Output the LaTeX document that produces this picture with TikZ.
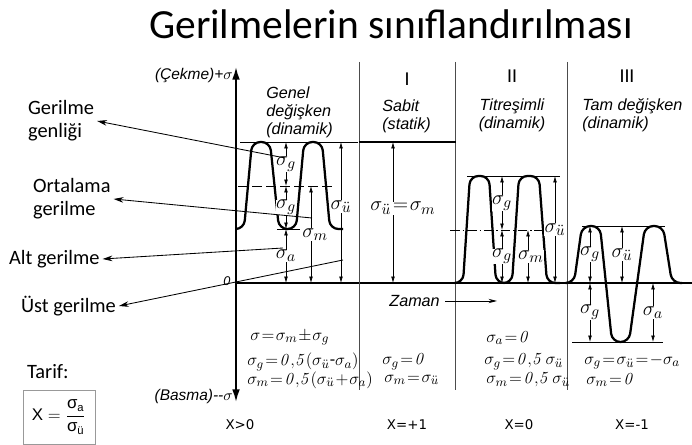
\documentclass[tikz,border=0pt]{standalone}
\usepackage{amsmath}
\usepackage[no-math]{fontspec}
\setmainfont{Carlito}
\newfontfamily\arialfont{Liberation Sans}
\newfontfamily\verdfont{DejaVu Sans}
\usetikzlibrary{arrows.meta}

\newcommand\sigU{\sigma_{\ddot u}}
\newcommand\sigA{\sigma_{a}}
\newcommand\sigG{\sigma_{g}}
\newcommand\sigM{\sigma_{m}}

\begin{document}
\begin{tikzpicture}[x=0.025cm, y=-0.025cm,
    wave/.style={line width=1.6pt, rounded corners=6pt},
    dim/.style={{Latex[length=4.5pt,width=2.6pt]}-{Latex[length=4.5pt,width=2.6pt]}, line width=0.45pt},
    lvl/.style={line width=0.45pt},
    sig/.style={fill=white, inner sep=0.3pt, font=\fontsize{15}{17}\selectfont,
        execute at begin node={\thickmuskip=1.5mu\medmuskip=1mu}},
    frm/.style={anchor=west, inner sep=0pt, font=\fontsize{12.5}{14}\selectfont,
        execute at begin node={\thickmuskip=1.5mu\medmuskip=1mu}},
    hdr/.style={font=\arialfont\itshape\fontsize{11.5}{12.8}\selectfont, inner sep=0pt},
    side/.style={font=\fontsize{14.5}{16.5}\selectfont, align=left, anchor=west, inner sep=2pt},
    ptr/.style={-{Stealth[length=7pt,width=4pt]}, line width=0.6pt},
    sep/.style={line width=0.6pt, black!70}]
    \useasboundingbox (0,0) rectangle (692,445);

    % --- 1. Baslik ---
    \node[font=\fontsize{29.5}{32}\selectfont] (baslik) at (391,24) {Gerilmelerin sınıflandırılması};

    % --- 2. Eksenler ---
    \coordinate (O) at (236,283);
    \coordinate (T) at (236,67);
    \coordinate (B) at (236,402);
    \coordinate (E) at (692,283);
    \draw[line width=1.2pt, -{Latex[length=9pt,width=5.5pt]}] (O) -- (T);
    \draw[line width=1.2pt, -{Latex[length=9pt,width=5.5pt]}] (O) -- (B);
    \draw[line width=1.1pt] (O) -- (E);
    \node[hdr, anchor=east, font=\arialfont\itshape\fontsize{11}{12}\selectfont] (cekme) at (233,76) {(Çekme)+$\sigma$};
    \node[hdr, anchor=east, font=\arialfont\itshape\fontsize{11}{12}\selectfont] (basma) at (233,396) {(Basma)--$\sigma$};
    \node[hdr, font=\arialfont\itshape\fontsize{9}{9}\selectfont] (sifir) at (227,281) {0};

    % --- 3. Bolme cizgileri ---
    \foreach \xs in {359,455,567}
        \draw[sep] (\xs,62) -- (\xs,390);

    % --- 4. Basliklar ---
    \node[hdr, anchor=west, align=left] (genel) at (266,112) {Genel\\değişken\\(dinamik)};
    \node[font=\fontsize{14}{14}\selectfont] (rI) at (407,79) {I};
    \node[hdr, anchor=west, align=left] (sabit) at (382,116) {Sabit\\(statik)};
    \node[font=\fontsize{14}{14}\selectfont] (rII) at (512,76) {II};
    \node[hdr, align=center] (titres) at (512,115) {Titreşimli\\(dinamik)};
    \node[font=\fontsize{14}{14}\selectfont] (rIII) at (627,76) {III};
    \node[hdr, anchor=west, align=left] (tam) at (582,115) {Tam değişken\\(dinamik)};

    % --- 5. Genel degisken ---
    \draw[lvl] (240,142) -- (358,142);
    \draw[lvl, dash pattern=on 7pt off 3pt] (238,186) -- (333,186);
    \draw[lvl] (277,229) -- (300,229);
    \draw[wave] (237,229) -- (244,229) -- (252,142) -- (270,142) -- (279,229)
        -- (296,229) -- (304,142) -- (322,142) -- (330,229) -- (343,229);
    \draw[dim] (286,142) -- node[sig] {$\sigG$} (286,186);
    \draw[dim] (286,186) -- node[sig] {$\sigG$} (286,229);
    \draw[dim] (286,229) -- node[sig] {$\sigA$} (286,283);
    \draw[dim] (311,186) -- node[sig, xshift=3pt] {$\sigM$} (311,283);
    \draw[dim] (341,142) -- node[sig, pos=0.46] {$\sigU$} (341,283);

    % --- 6. Sabit ---
    \draw[line width=1.3pt] (359,142) -- (456,142);
    \draw[dim] (393,142) -- node[sig, pos=0.47, xshift=7pt] {$\sigU=\sigM$} (393,283);

    % --- 7. Titresimli ---
    \draw[lvl] (467,176) -- (560,176);
    \draw[lvl, dash pattern=on 7pt off 2pt on 1pt off 2pt] (450,230) -- (560,230);
    \draw[wave] (455,283) -- (463,283) -- (470,176) -- (489,176) -- (496,283)
        -- (512,283) -- (519,176) -- (539,176) -- (547,283) -- (560,283);
    \draw[dim] (502,176) -- node[sig] {$\sigG$} (502,230);
    \draw[dim] (502,230) -- node[sig] {$\sigG$} (502,283);
    \draw[dim] (528,230) -- node[sig, xshift=2pt] {$\sigM$} (528,283);
    \draw[dim] (555,176) -- node[sig] {$\sigU$} (555,283);

    % --- 8. Tam degisken ---
    \draw[lvl] (582,226) -- (665,226);
    \draw[lvl] (572,342) -- (663,342);
    \draw[wave] (567,283) -- (574,283) -- (582,226) -- (600,226) -- (612,342)
        -- (629,342) -- (645,226) -- (663,226) -- (672,283) -- (682,283);
    \draw[dim] (590,226) -- node[sig] {$\sigG$} (590,283);
    \draw[dim] (590,283) -- node[sig] {$\sigG$} (590,342);
    \draw[dim] (622,226) -- node[sig] {$\sigU$} (622,283);
    \draw[dim] (653,283) -- node[sig] {$\sigA$} (653,342);

    % --- 9. Zaman ---
    \node[hdr, anchor=east] (zaman) at (440,301) {Zaman};
    \coordinate (zUc) at (497,301);
    \draw[line width=0.6pt, -{Stealth[length=6pt,width=3pt]}] (zaman.east) ++(5,0) -- (zUc);

    % --- 10. Aciklama etiketleri ---
    \node[side] (gen) at (25,121) {Gerilme\\genliği};
    \node[side] (ort) at (30,199) {Ortalama\\gerilme};
    \node[side] (alt) at (6,259) {Alt gerilme};
    \node[side] (ust) at (18,306) {Üst gerilme};
    \coordinate (genP) at (285,158);
    \coordinate (ortP) at (312,218);
    \coordinate (altP) at (283,248);
    \coordinate (ustP) at (343,260);
    \draw[ptr] (genP) -- (gen.east);
    \draw[ptr] (ortP) -- (ort.east);
    \draw[ptr] (altP) -- (alt.east);
    \draw[ptr] (ustP) -- (ust.east);

    % --- 11. Formuller ---
    \node[frm] (f1a) at (250,338) {$\sigma=\sigM\pm\sigG$};
    \node[frm] (f1b) at (247,362) {$\sigG=\mathit{0{,}5}(\sigU\text{-}\sigA)$};
    \node[frm] (f1c) at (247,380) {$\sigM=\mathit{0{,}5}(\sigU+\sigA)$};
    \node[frm] (f2b) at (382,362) {$\sigG=\mathit{0}$};
    \node[frm] (f2c) at (384,380) {$\sigM=\sigU$};
    \node[frm] (f3a) at (486,338) {$\sigA=\mathit{0}$};
    \node[frm] (f3b) at (484,362) {$\sigG=\mathit{0{,}5}\,\sigU$};
    \node[frm] (f3c) at (486,380) {$\sigM=\mathit{0{,}5}\,\sigU$};
    \node[frm] (f4b) at (584,362) {$\sigG=\sigU=-\sigA$};
    \node[frm] (f4c) at (586,380) {$\sigM=\mathit{0}$};

    % --- 12. X degerleri ---
    \node[font=\verdfont\fontsize{9.5}{10}\selectfont] (x1) at (240,425) {X>0};
    \node[font=\verdfont\fontsize{9.5}{10}\selectfont] (x2) at (407,425) {X=+1};
    \node[font=\verdfont\fontsize{9.5}{10}\selectfont] (x3) at (519,425) {X=0};
    \node[font=\verdfont\fontsize{9.5}{10}\selectfont] (x4) at (632,425) {X=-1};

    % --- 13. Tarif ---
    \node[side] (tarif) at (24,372) {Tarif:};
    \draw[line width=0.5pt, black!40] (23,390) rectangle (95,444);
    \node[font=\arialfont\fontsize{12}{14}\selectfont] (xdef) at (59,417)
        {$\text{X} = \dfrac{\text{σ}_{\text{a}}}{\text{σ}_{\text{ü}}}$};
\end{tikzpicture}
\end{document}
